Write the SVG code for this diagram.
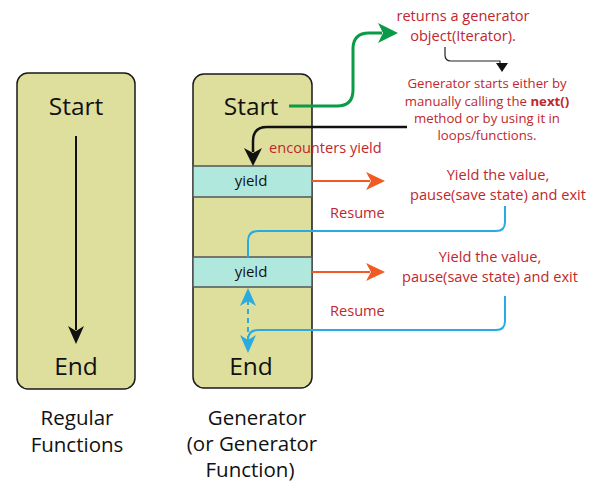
<svg xmlns="http://www.w3.org/2000/svg" width="600" height="500" viewBox="0 0 600 500">
<defs>
<style>
.box{fill:#dfdf9d;stroke:#1a1a1a;stroke-width:1.5}
.yb{fill:#b1e8de;stroke:#555;stroke-width:1.5}
.big{font-family:"Open Sans","Liberation Sans",sans-serif;font-size:24.5px;fill:#111;text-anchor:middle}
.cap{font-family:"Open Sans","Liberation Sans",sans-serif;font-size:20.5px;fill:#111;text-anchor:middle}
.yl{font-family:"Open Sans","Liberation Sans",sans-serif;font-size:15px;fill:#111;text-anchor:middle}
.red{font-family:"Open Sans","Liberation Sans",sans-serif;font-size:14.6px;fill:#c1272d}
.sm{font-size:13.2px}
.mid{text-anchor:middle}
</style>
</defs>
<rect width="600" height="500" fill="#fff"/>
<g id="regular">
<rect class="box" x="17" y="73" width="118" height="316" rx="11"/>
<text class="big" x="76" y="115">Start</text>
<text class="big" x="76" y="375">End</text>
<text class="cap" x="77" y="425">Regular</text>
<text class="cap" x="77" y="452">Functions</text>
</g>
<g id="generator">
<rect class="box" x="193" y="74" width="119" height="314" rx="11"/>
<text class="big" x="251" y="115">Start</text>
<text class="big" x="251" y="375">End</text>
<text class="cap" x="257" y="425">Generator</text>
<text class="cap" x="252" y="451">(or Generator</text>
<text class="cap" x="250" y="477">Function)</text>
</g>
<g id="yield1">
<rect class="yb" x="193" y="166" width="119" height="31"/>
<text class="yl" x="251" y="186">yield</text>
</g>
<g id="yield2">
<rect class="yb" x="193" y="257" width="119" height="30"/>
<text class="yl" x="251" y="277">yield</text>
</g>
<g id="labels">
<text class="red mid" x="463" y="21">returns a generator</text>
<text class="red mid" x="463" y="41">object(Iterator).</text>
<text class="red mid sm" x="487" y="88">Generator starts either by</text>
<text class="red mid sm" x="487" y="106">manually calling the <tspan font-weight="bold">next()</tspan></text>
<text class="red mid sm" x="487" y="123">method or by using it in</text>
<text class="red mid sm" x="487" y="140">loops/functions.</text>
<text class="red" x="269" y="153">encounters yield</text>
<text class="red mid" x="498" y="180">Yield the value,</text>
<text class="red mid" x="498" y="200">pause(save state) and exit</text>
<text class="red" x="330" y="218">Resume</text>
<text class="red mid" x="490" y="262">Yield the value,</text>
<text class="red mid" x="490" y="282">pause(save state) and exit</text>
<text class="red" x="330" y="316">Resume</text>
</g>
<g id="connectors" fill="none">
<line x1="76" y1="136" x2="76" y2="330" stroke="#111" stroke-width="2"/>
<path d="M68,326 L76,344 L84,326 L76,331 z" fill="#111"/>
<path d="M289,106 H337 Q353,106 353,90 V49 Q353,33 369,33 H382" stroke="#0a9a48" stroke-width="3"/>
<path d="M378,23 L398,33 L378,43 L383,33 z" fill="#0a9a48"/>
<path d="M445,47 V55 Q445,61 451,61 H500 V64" stroke="#222" stroke-width="1.2"/>
<path d="M496,63 L502,72 L508,63 z" fill="#111"/>
<path d="M407,127 H267 Q253,127 253,141 V152" stroke="#111" stroke-width="2.5"/>
<path d="M244,148 L253,166 L262,148 L253,153 z" fill="#111"/>
<line x1="312" y1="181" x2="370" y2="181" stroke="#f15a24" stroke-width="2"/>
<path d="M366,172 L385,181 L366,190 L371,181 z" fill="#f15a24"/>
<path d="M505,206 V222 Q505,231 496,231 H258 Q248,231 248,241 V257" stroke="#29abe2" stroke-width="2"/>
<line x1="312" y1="272" x2="370" y2="272" stroke="#f15a24" stroke-width="2"/>
<path d="M366,263 L385,272 L366,281 L371,272 z" fill="#f15a24"/>
<path d="M505,296 V321 Q505,330 496,330 H258 Q248,330 248,340" stroke="#29abe2" stroke-width="2"/>
<line x1="248" y1="300" x2="248" y2="340" stroke="#29abe2" stroke-width="2" stroke-dasharray="5,4"/>
<path d="M240,306 L248,288 L256,306 L248,301 z" fill="#29abe2"/>
<path d="M240,335 L248,353 L256,335 L248,340 z" fill="#29abe2"/>
</g>
</svg>
